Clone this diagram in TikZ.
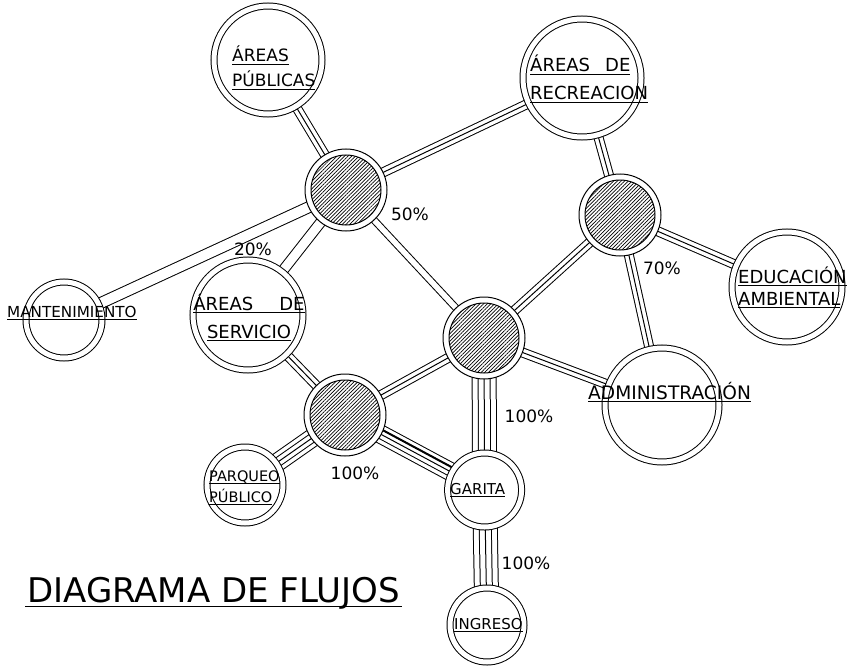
\documentclass[tikz,border=0pt]{standalone}
\usepackage{fontspec}
\setmainfont{DejaVu Sans}
\usetikzlibrary{patterns.meta,backgrounds}
\newcommand\ulx[1]{\setbox0=\hbox{#1}\rlap{\rule[-3.2pt]{\wd0}{1pt}}\box0}
\newcommand\twoL[3]{\vtop{\baselineskip=#1\lineskiplimit=-100pt\halign{##\hfil\cr\ulx{#2}\cr\ulx{#3}\cr}}}
\newcommand\twoC[3]{\vtop{\baselineskip=#1\lineskiplimit=-100pt\halign{\hfil##\hfil\cr\ulx{#2}\cr\ulx{#3}\cr}}}
\begin{document}
\begin{tikzpicture}[x=1pt,y=-1pt,line width=1pt,
  ring/.style={circle,draw,fill=white,double,double distance=5pt,inner sep=0pt,minimum size=#1},
  hub/.style={circle,draw,fill=white,inner sep=0pt,minimum size=82pt,
    path picture={\draw[pattern={Lines[angle=45,distance=2.6pt,line width=0.7pt]}] (path picture bounding box.center) circle (35pt);}},
  lab/.style={inner sep=0pt,anchor=base west},
  pct/.style={inner sep=0pt,font=\fontsize{17}{20}\selectfont},
  c2/.style={draw,line width={#1pt+1pt},postaction={draw=white,line width={#1pt-1pt}}},
  c3/.style={draw,line width=10pt,postaction={draw=white,line width=8pt},postaction={draw=black,line width=1pt}},
  c5/.style={draw,line width={4*#1pt+1pt},postaction={draw=white,line width={4*#1pt-1pt}},
    postaction={draw=black,line width={2*#1pt+1pt}},postaction={draw=white,line width={2*#1pt-1pt}},
    postaction={draw=black,line width=1pt}}]
\useasboundingbox (0,0) rectangle (848,666);
% hubs
\node[hub] (h1) at (346,190) {};
\node[hub] (h2) at (484,338) {};
\node[hub] (h3) at (345,415) {};
\node[hub] (h4) at (620,215) {};
% rings
\node[ring=108pt] (pub) at (268,60) {};
\node[ring=118pt] (rec) at (582,78) {};
\node[ring=110pt] (edu) at (787,287) {};
\node[ring=114pt] (adm) at (662,405) {};
\node[ring=110pt] (serv) at (248,315) {};
\node[ring=76pt] (mant) at (64,320) {};
\node[ring=76pt] (parq) at (245,485) {};
\node[ring=74pt] (gar) at (484.6,490) {};
\node[ring=74pt] (ing) at (487,625) {};
% connectors
\begin{pgfonlayer}{background}
\draw[c3] (h1.center) -- (pub.center);
\draw[c3] (h1.center) -- (rec.center);
\draw[c3] (h4.center) -- (rec.center);
\draw[c3] (h4.center) -- (edu.center);
\draw[c3] (h4.center) -- (adm.center);
\draw[c3] (h2.center) -- (h4.center);
\draw[c3] (h2.center) -- (adm.center);
\draw[c3] (h2.center) -- (h3.center);
\draw[c3] (h3.center) -- (serv.center);
\draw[c2=11] (h1.center) -- (mant.center);
\draw[c2=10] (h1.center) -- (serv.center);
\draw[c2=6.5] (h1.center) -- (h2.center);
\draw[c5=6] (h2.center) -- (gar.center);
\draw[c5=6] (gar.center) -- (ing.center);
\draw[c5=4.5] (h3.center) -- (parq.center);
\draw[c5=4.5] (h3.center) -- (gar.center);
\draw[line width=2pt,transform canvas={shift={(2.1,-4.0)}}] (h3.center) -- (gar.center);
\end{pgfonlayer}
% labels
\node[lab,font=\fontsize{17}{20}\selectfont] (pubL) at (232,62) {\twoL{25pt}{ÁREAS}{PÚBLICAS}};
\node[lab,font=\fontsize{18}{20}\selectfont] (recL) at (530,72) {\twoL{28pt}{ÁREAS\hspace{15pt}DE}{RECREACION}};
\node[inner sep=0pt,anchor=base,font=\fontsize{18}{20}\selectfont] (servL) at (249,310) {\twoC{28pt}{ÁREAS\hspace{26pt}DE}{SERVICIO}};
\node[lab,font=\fontsize{18}{20}\selectfont] (eduL) at (738,283) {\twoL{22pt}{EDUCACIÓN}{AMBIENTAL}};
\node[lab,font=\fontsize{18.6}{20}\selectfont] (admL) at (588,399) {\ulx{ADMINISTRACIÓN}};
\node[lab,font=\fontsize{15.2}{18}\selectfont] (mantL) at (7,317) {\ulx{MANTENIMIENTO}};
\node[lab,font=\fontsize{14.5}{18}\selectfont] (parqL) at (209,481) {\twoL{21pt}{PARQUEO}{PÚBLICO}};
\node[lab,font=\fontsize{15}{18}\selectfont] (garL) at (450,494) {\ulx{GARITA}};
\node[lab,font=\fontsize{15}{18}\selectfont] (ingL) at (454,629) {\ulx{INGRESO}};
% percentages
\node[pct] (p50) at (410,214) {50\%};
\node[pct] (p20) at (253,249) {20\%};
\node[pct] (p70) at (662,268) {70\%};
\node[pct] (p100a) at (529,416) {100\%};
\node[pct] (p100b) at (355,473) {100\%};
\node[pct] (p100c) at (526,563) {100\%};
% title
\node[lab,font=\fontsize{34}{40}\selectfont] (title) at (27,602) {\setbox0=\hbox{DIAGRAMA DE FLUJOS}\rlap{\hspace{-2pt}\rule[-4.5pt]{\dimexpr\wd0+4pt\relax}{1pt}}\box0};
\end{tikzpicture}
\end{document}
